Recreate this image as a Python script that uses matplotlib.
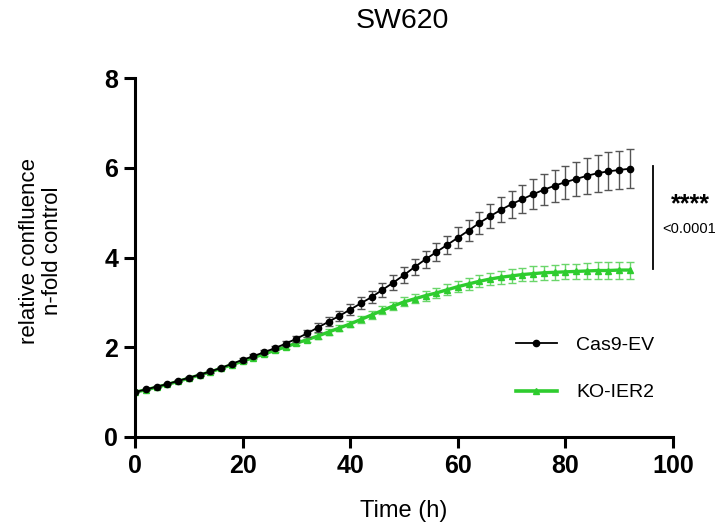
import matplotlib
matplotlib.use("Agg")
import matplotlib.pyplot as plt
from matplotlib.lines import Line2D

plt.rcParams['font.family'] = ['Liberation Sans', 'DejaVu Sans']

time_h = list(range(0, 93, 2))
cas9_ev = [1.00, 1.06, 1.12, 1.18, 1.25, 1.32, 1.39, 1.46, 1.54, 1.63,
           1.72, 1.80, 1.89, 1.98, 2.08, 2.19, 2.31, 2.44, 2.57, 2.70,
           2.84, 2.98, 3.12, 3.28, 3.44, 3.61, 3.79, 3.96, 4.12, 4.28,
           4.44, 4.60, 4.77, 4.92, 5.06, 5.19, 5.30, 5.41, 5.51, 5.60,
           5.68, 5.75, 5.82, 5.88, 5.92, 5.95, 5.98]
cas9_sd = [0.00, 0.01, 0.01, 0.01, 0.02, 0.02, 0.02, 0.03, 0.03, 0.03,
           0.04, 0.04, 0.05, 0.05, 0.06, 0.07, 0.08, 0.09, 0.10, 0.11,
           0.12, 0.13, 0.14, 0.15, 0.16, 0.17, 0.18, 0.19, 0.20, 0.21,
           0.23, 0.24, 0.25, 0.27, 0.28, 0.30, 0.31, 0.33, 0.34, 0.36,
           0.37, 0.38, 0.40, 0.41, 0.42, 0.43, 0.44]
ko_ier2 = [1.00, 1.05, 1.11, 1.17, 1.24, 1.31, 1.38, 1.45, 1.53, 1.61,
           1.69, 1.77, 1.85, 1.93, 2.01, 2.09, 2.17, 2.25, 2.34, 2.43,
           2.52, 2.62, 2.72, 2.82, 2.92, 3.01, 3.08, 3.15, 3.21, 3.28,
           3.35, 3.41, 3.47, 3.52, 3.56, 3.59, 3.62, 3.64, 3.66, 3.67,
           3.68, 3.69, 3.70, 3.71, 3.71, 3.72, 3.72]
ko_sd = [0.00, 0.01, 0.01, 0.01, 0.01, 0.02, 0.02, 0.02, 0.02, 0.03,
         0.03, 0.03, 0.04, 0.04, 0.04, 0.05, 0.05, 0.06, 0.06, 0.07,
         0.07, 0.08, 0.08, 0.09, 0.09, 0.10, 0.10, 0.11, 0.11, 0.12,
         0.12, 0.13, 0.13, 0.14, 0.14, 0.15, 0.15, 0.16, 0.16, 0.17,
         0.17, 0.17, 0.18, 0.18, 0.18, 0.19, 0.19]
series_labels = ['Cas9-EV', 'KO-IER2']
xticks = [0, 20, 40, 60, 80, 100]
yticks = [0, 2, 4, 6, 8]

W, H = 719, 528
fig = plt.figure(figsize=(W / 100, H / 100), dpi=100)
ax = fig.add_axes([135 / W, 1 - 437 / H, (673 - 135) / W, (437 - 78) / H])

green = '#2ecc2e'
ax.errorbar(time_h, ko_ier2, yerr=ko_sd, color=green, marker='^', markersize=4,
            linewidth=2.4, elinewidth=1.0, capsize=3, capthick=1.0,
            ecolor='#6ad66a', zorder=2)
ax.errorbar(time_h, cas9_ev, yerr=cas9_sd, color='black', marker='o', markersize=4.5,
            linewidth=1.3, elinewidth=1.0, capsize=3, capthick=1.0,
            ecolor='#555555', zorder=3)

ax.set_xlim(0, 100)
ax.set_ylim(0, 8)
ax.set_xticks(xticks)
ax.set_yticks(yticks)
for s in ['top', 'right']:
    ax.spines[s].set_visible(False)
for s in ['left', 'bottom']:
    ax.spines[s].set_linewidth(2.2)
ax.tick_params(width=2.2, length=8, labelsize=18, direction='out', pad=4)
for lab in ax.get_xticklabels() + ax.get_yticklabels():
    lab.set_fontweight('bold')

fig.text(402 / W, 1 - 21 / H, 'SW620', fontsize=20.5, ha='center', va='center')
fig.text(404 / W, 1 - 511 / H, 'Time (h)', fontsize=17, ha='center', va='center')
fig.text(41 / W, 1 - 251 / H, 'relative confluence\nn-fold control', fontsize=16,
         ha='center', va='center', rotation=90, linespacing=1.1)

# significance bracket
ax.plot([96.3, 96.3], [3.74, 6.05], color='black', linewidth=1.3, clip_on=False)
fig.text(690 / W, 1 - 204 / H, '****', fontsize=18, fontweight='bold', ha='center', va='center')
fig.text(689 / W, 1 - 229 / H, '<0.0001', fontsize=10.5, ha='center', va='center')

# legend
handles = [Line2D([], [], color='black', marker='o', markersize=4.5, linewidth=1.3),
           Line2D([], [], color=green, marker='^', markersize=4, linewidth=2.6)]
leg = fig.legend(handles, series_labels, loc='upper left',
                 bbox_to_anchor=(516 / W, 1 - 336 / H), frameon=False, fontsize=14,
                 handlelength=2.1, labelspacing=1.55, handletextpad=1.0,
                 borderpad=0, borderaxespad=0)

fig.savefig('out.png', dpi=100)
